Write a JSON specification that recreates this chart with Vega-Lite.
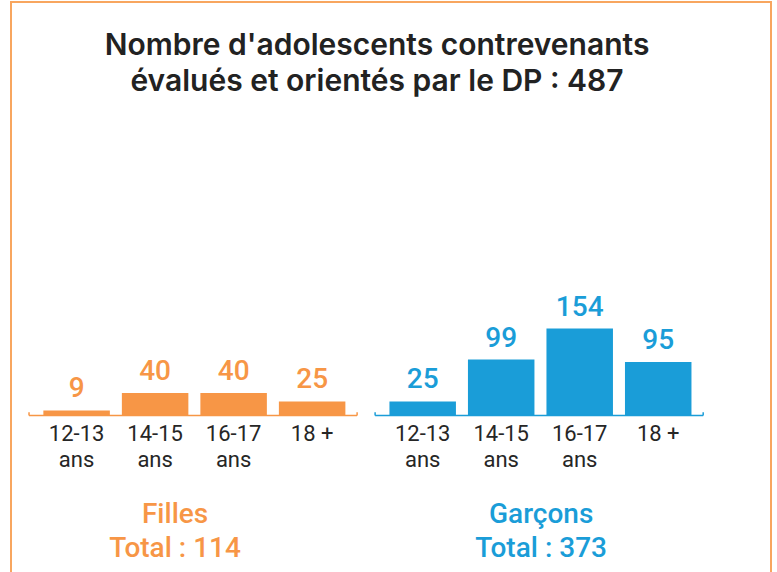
{
  "$schema": "https://vega.github.io/schema/vega-lite/v6.json",
  "width": 760,
  "height": 574,
  "autosize": "none",
  "padding": {"left": 11, "top": 2, "right": 6, "bottom": -4},
  "background": "white",
  "config": {
    "view": {"stroke": "#F8A65F", "strokeWidth": 2},
    "font": "Roboto"
  },
  "datasets": {
    "bars": [
      {"group": "Filles", "age": "12-13 ans", "n": 9},
      {"group": "Filles", "age": "14-15 ans", "n": 40},
      {"group": "Filles", "age": "16-17 ans", "n": 40},
      {"group": "Filles", "age": "18 +", "n": 25},
      {"group": "Garçons", "age": "12-13 ans", "n": 25},
      {"group": "Garçons", "age": "14-15 ans", "n": 99},
      {"group": "Garçons", "age": "16-17 ans", "n": 154},
      {"group": "Garçons", "age": "18 +", "n": 95}
    ],
    "groups": [
      {"group": "Filles", "total": 114},
      {"group": "Garçons", "total": 373}
    ],
    "heading": [
      {"lines": ["Nombre d'adolescents contrevenants", "évalués et orientés par le DP : 487"]}
    ]
  },
  "encoding": {
    "x": {"field": "group", "type": "nominal", "axis": null,
      "scale": {"domain": ["Filles", "Garçons"], "paddingInner": 0.052, "paddingOuter": 0.124, "align": 0.21}},
    "color": {"field": "group", "type": "nominal", "legend": null,
      "scale": {"domain": ["Filles", "Garçons"], "range": ["#F79646", "#1A9DD8"]}}
  },
  "layer": [
    {
      "data": {"name": "bars"},
      "mark": {"type": "bar"},
      "encoding": {
        "xOffset": {"field": "age", "type": "nominal",
          "scale": {"domain": ["12-13 ans", "14-15 ans", "16-17 ans", "18 +"], "paddingInner": 0.153, "paddingOuter": 0.166, "align": 0.55}},
        "y": {"field": "n", "type": "quantitative", "axis": null,
          "scale": {"domain": [-284, 732], "nice": false, "zero": false}}
      }
    },
    {
      "data": {"name": "bars"},
      "mark": {"type": "text", "baseline": "bottom", "dy": -7, "fontSize": 28, "fontWeight": 500},
      "encoding": {
        "xOffset": {"field": "age", "type": "nominal"},
        "y": {"field": "n", "type": "quantitative"},
        "text": {"field": "n", "type": "quantitative"}
      }
    },
    {
      "data": {"name": "bars"},
      "transform": [{"calculate": "split(replace(datum.age, ' ans', '|ans'), '|')", "as": "lines"}],
      "mark": {"type": "text", "baseline": "alphabetic", "fontSize": 22, "lineHeight": 26},
      "encoding": {
        "xOffset": {"field": "age", "type": "nominal"},
        "y": {"datum": -44.6},
        "text": {"field": "lines"},
        "color": {"value": "#262626"}
      }
    },
    {
      "data": {"name": "groups"},
      "mark": {"type": "rule", "strokeWidth": 1.5},
      "encoding": {
        "x": {"field": "group", "type": "nominal", "bandPosition": 0},
        "x2": {"field": "group", "bandPosition": 1},
        "y": {"datum": 0}
      }
    },
    {
      "data": {"name": "groups"},
      "mark": {"type": "rule", "strokeWidth": 1.5},
      "encoding": {
        "x": {"field": "group", "type": "nominal", "bandPosition": 0},
        "y": {"datum": 0},
        "y2": {"datum": 6}
      }
    },
    {
      "data": {"name": "groups"},
      "mark": {"type": "rule", "strokeWidth": 1.5},
      "encoding": {
        "x": {"field": "group", "type": "nominal", "bandPosition": 1},
        "y": {"datum": 0},
        "y2": {"datum": 6}
      }
    },
    {
      "data": {"name": "groups"},
      "transform": [
        {"filter": "datum.group == 'Filles'"},
        {"calculate": "[datum.group, 'Total : ' + datum.total]", "as": "lines"}
      ],
      "mark": {"type": "text", "baseline": "alphabetic", "fontSize": 28, "lineHeight": 34, "fontWeight": 500, "dx": -18},
      "encoding": {
        "y": {"datum": -190.3},
        "text": {"field": "lines"}
      }
    },
    {
      "data": {"name": "groups"},
      "transform": [
        {"filter": "datum.group == 'Garçons'"},
        {"calculate": "[datum.group, 'Total : ' + datum.total]", "as": "lines"}
      ],
      "mark": {"type": "text", "baseline": "alphabetic", "fontSize": 28, "lineHeight": 34, "fontWeight": 500, "dx": 2},
      "encoding": {
        "y": {"datum": -190.3},
        "text": {"field": "lines"}
      }
    },
    {
      "data": {"name": "heading"},
      "mark": {"type": "text", "baseline": "alphabetic", "fontSize": 30, "lineHeight": 36, "fontWeight": 600, "font": "Inter", "color": "#222222", "dx": -14},
      "encoding": {
        "x": null,
        "color": null,
        "y": {"datum": 638},
        "text": {"field": "lines"}
      }
    }
  ]
}
